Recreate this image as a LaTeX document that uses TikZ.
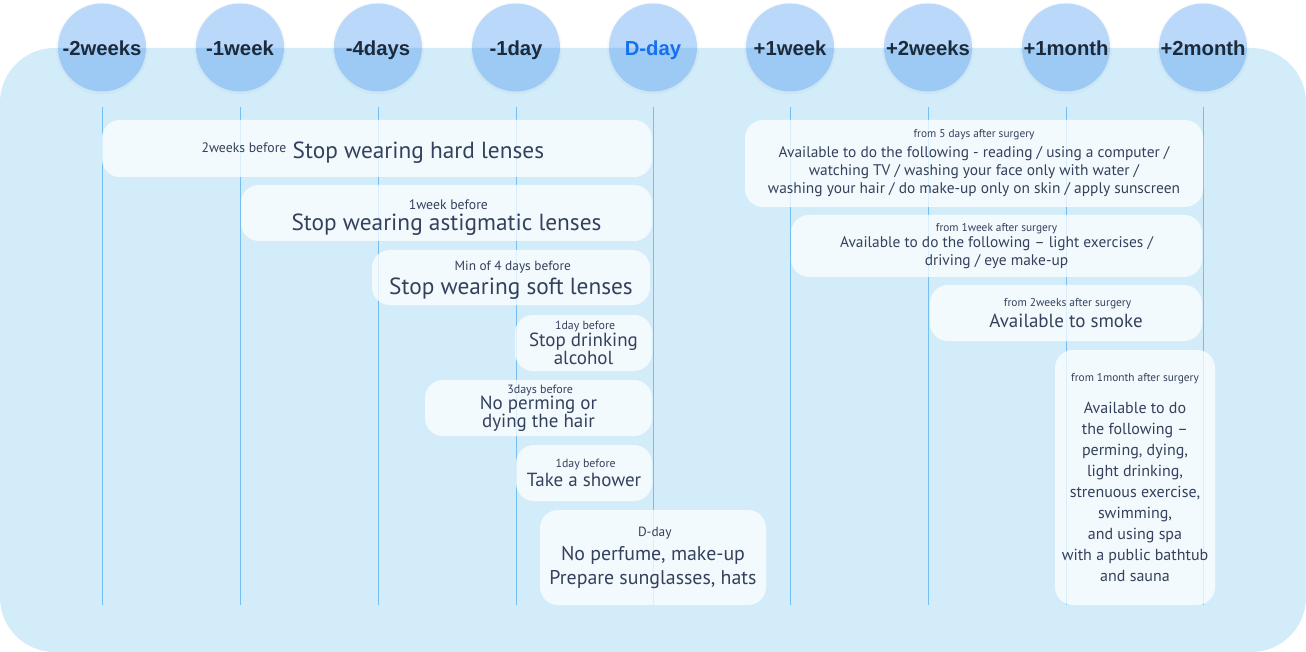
\documentclass[tikz,border=0pt]{standalone}
\usepackage{fontspec}
\setmainfont{PT Sans}
\newfontfamily\headfont{Liberation Sans}

\definecolor{bg}{HTML}{D3ECF9}
\definecolor{circ}{HTML}{3491F9}
\definecolor{linec}{HTML}{74BEF4}
\definecolor{ink}{HTML}{34415C}
\definecolor{head}{HTML}{1C2A3A}
\definecolor{dblue}{HTML}{1570EF}

\newcommand\sm[1][8.5]{\fontsize{#1}{10}\selectfont}

\tikzset{
	day/.style={circle, minimum size=66pt, inner sep=0pt, fill=circ, fill opacity=0.32,
		text opacity=1, text height=12.4pt, text depth=0pt,
		font=\headfont\bfseries\fontsize{15.2}{17}\selectfont},
	dayline/.style={draw=linec, line width=0.75pt},
	note/.style={rounded corners=13.5pt, fill=white, fill opacity=0.75, text opacity=1,
		align=center, inner sep=0pt, text=ink},
	bigtxt/.style={font=\fontsize{17.5}{17}\selectfont},
	midtxt/.style={font=\fontsize{14.25}{13.5}\selectfont},
	smalltxt/.style={font=\fontsize{11.55}{13.5}\selectfont},
}

\begin{document}
\begin{tikzpicture}[x=0.75pt, y=-0.75pt]
	\useasboundingbox (0,0) rectangle (1306,652);
	\fill[bg, rounded corners=41pt] (0,48) rectangle (1306,652);

	% time marks
	\foreach \x/\lab/\col [count=\i] in {102/-2weeks/head, 240/-1week/head, 378/-4days/head,
		516/-1day/head, 653/D-day/dblue, 790/+1week/head, 928/+2weeks/head,
		1066/+1month/head, 1203/+2month/head}{
		\fill[black, opacity=0.025] (\x,48.5) circle (46);
		\node[day, text=\col] (d\i) at (\x,47.5) {\lab};
		\coordinate (e\i) at (\x,605);
		\draw[dayline] (d\i.south) ++(0,15) -- (e\i);
	}

	% before surgery
	\node[note, bigtxt, text height=15pt, text depth=0pt, minimum width=412.5pt,
		minimum height=42.75pt] (hard) at (377,148.5)
		{\raisebox{4.5pt}[0pt][0pt]{\sm[10.3] 2weeks before} Stop wearing hard lenses\hspace*{9pt}};
	\node[note, bigtxt, minimum width=308.25pt, minimum height=42pt] (astig) at (446.5,213)
		{\rule{0pt}{14pt}{\sm[10.3] 1week before}\\[-1pt] Stop wearing astigmatic lenses};
	\node[note, bigtxt, minimum width=208.5pt, minimum height=41.25pt] (soft) at (511,277.5)
		{\rule{0pt}{11pt}{\sm[10] Min of 4 days before}\\[1pt] Stop wearing soft lenses};
	\node[note, midtxt, minimum width=102.75pt, minimum height=42pt] (alcohol) at (583.5,343)
		{{\sm[8.9] 1day before}\\[-1pt] Stop drinking\\ alcohol};
	\node[note, midtxt, minimum width=170.25pt, minimum height=42pt] (perm) at (538.5,408)
		{{\sm[9] 3days before}\\[-1pt] No perming or\\[-0.5pt] dying the hair};
	\node[note, midtxt, minimum width=102pt, minimum height=42pt] (shower) at (584,473)
		{{\sm[8.9] 1day before}\\[1pt] Take a shower};
	\node[note, midtxt, font=\fontsize{14.9}{13.5}\selectfont, minimum width=169.5pt,
		minimum height=71.25pt] (dday) at (653,557.5)
		{{\sm[10] D-day}\\[5pt] No perfume, make-up\\[3pt] Prepare sunglasses, hats};

	% after surgery
	\node[note, smalltxt, minimum width=343.5pt, minimum height=65.25pt] (five) at (974,163.5)
		{{\sm from 5 days after surgery}\\[1.5pt]
		Available to do the following - reading / using a computer /\\
		watching TV / washing your face only with water /\\
		washing your hair / do make-up only on skin / apply sunscreen};
	\node[note, smalltxt, minimum width=308.25pt, minimum height=46.5pt] (week) at (996.5,246)
		{{\sm from 1week after surgery}\\[-1pt]
		Available to do the following – light exercises /\\ driving / eye make-up};
	\node[note, midtxt, minimum width=204pt, minimum height=42pt] (smoke) at (1066,313)
		{{\sm[8.6] from 2weeks after surgery}\\[2pt] Available to smoke};
	\node[note, font=\fontsize{12}{15.75}\selectfont, minimum width=120pt, minimum height=191.25pt]
		(month) at (1135,477.5)
		{{\sm from 1month after surgery}\\[8pt]
		Available to do\\ the following –\\ perming, dying,\\ light drinking,\\
		strenuous exercise,\\ swimming,\\ and using spa\\ with a public bathtub\\ and sauna};
\end{tikzpicture}
\end{document}
